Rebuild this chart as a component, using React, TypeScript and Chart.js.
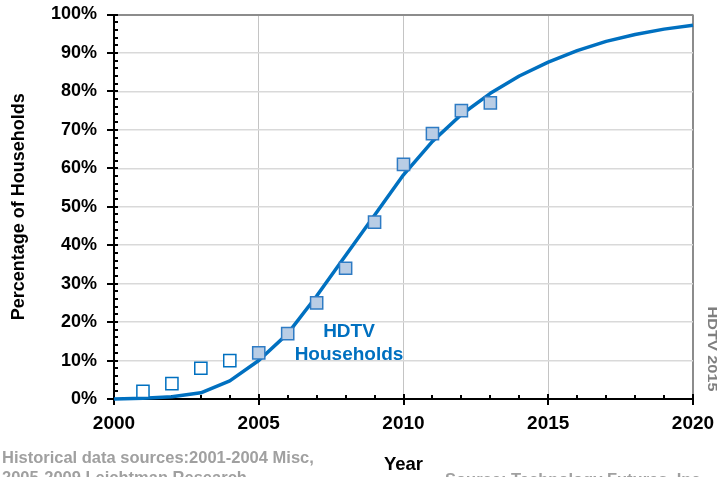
import React, { useEffect, useRef } from "react";
import { Chart, registerables } from "chart.js";

Chart.register(...registerables);

// ---- Data ----
const curveYears = [2000, 2001, 2002, 2003, 2004, 2005, 2006, 2007, 2008, 2009, 2010, 2011, 2012, 2013, 2014, 2015, 2016, 2017, 2018, 2019, 2020];
const curveValues = [0, 0.2, 0.6, 1.6, 4.7, 10, 17, 26.8, 37.3, 47.8, 58.3, 67, 74, 79.5, 84, 87.6, 90.6, 93, 94.8, 96.2, 97.2];
const historicalYears = [2001, 2002, 2003, 2004];
const historicalValues = [2, 4, 8, 10];
const surveyYears = [2005, 2006, 2007, 2008, 2009, 2010, 2011, 2012, 2013];
const surveyValues = [12, 17, 25, 34, 46, 61, 69, 75, 77];
const xMin = 2000;
const xMax = 2020;
const xStep = 5;
const yMin = 0;
const yMax = 100;
const yStep = 10;
const yMinorStep = 2;
const xMinorStep = 1;

const labelFont = "'Liberation Sans', Arial, Helvetica, sans-serif";
const BLUE = "#0070C0";

const extrasPlugin = {
  id: "extras",
  beforeDatasetsDraw(chart: any) {
    const { ctx, chartArea, scales } = chart;
    const xs = scales.x;
    const ys = scales.y;
    ctx.save();
    ctx.strokeStyle = "#000";
    ctx.lineWidth = 2;
    for (let v = yMin; v <= yMax; v += yMinorStep) {
      const y = Math.round(ys.getPixelForValue(v));
      ctx.beginPath();
      if (v % yStep === 0) {
        ctx.moveTo(chartArea.left - 7, y);
        ctx.lineTo(chartArea.left + 4, y);
      } else {
        ctx.moveTo(chartArea.left, y);
        ctx.lineTo(chartArea.left + 4, y);
      }
      ctx.stroke();
    }
    for (let v = xMin; v <= xMax; v += xMinorStep) {
      const x = Math.round(xs.getPixelForValue(v));
      ctx.beginPath();
      if (v % xStep === 0) {
        ctx.moveTo(x, chartArea.bottom - 5);
        ctx.lineTo(x, chartArea.bottom + 6);
      } else {
        ctx.moveTo(x, chartArea.bottom - 4);
        ctx.lineTo(x, chartArea.bottom);
      }
      ctx.stroke();
    }
    ctx.restore();
  },
  afterDraw(chart: any) {
    const { ctx } = chart;
    ctx.save();
    ctx.fillStyle = BLUE;
    ctx.font = `bold 19px ${labelFont}`;
    ctx.textAlign = "center";
    ctx.textBaseline = "middle";
    ctx.fillText("HDTV", 349, 332);
    ctx.fillText("Households", 349, 355);

    ctx.save();
    ctx.translate(711.5, 349);
    ctx.rotate(Math.PI / 2);
    ctx.scale(1.25, 1);
    ctx.fillStyle = "#7F7F7F";
    ctx.font = `bold 13px ${labelFont}`;
    ctx.textAlign = "center";
    ctx.textBaseline = "middle";
    ctx.fillText("HDTV 2015", 0, 0);
    ctx.restore();

    ctx.fillStyle = "#A0A0A0";
    ctx.font = `bold 16.5px ${labelFont}`;
    ctx.textAlign = "left";
    ctx.textBaseline = "alphabetic";
    ctx.fillText("Historical data sources:2001-2004 Misc,", 2, 463);
    ctx.fillText("2005-2009 Leichtman Research", 2, 483);
    ctx.fillText("Source: Technology Futures, Inc.", 445, 485);
    ctx.restore();
  },
};

export default function App() {
  const canvasRef = useRef<HTMLCanvasElement | null>(null);

  useEffect(() => {
    const canvas = canvasRef.current;
    if (!canvas) return;
    const chart = new Chart(canvas, {
      type: "scatter",
      data: {
        datasets: [
          {
            label: "HDTV Households",
            data: curveYears.map((x, i) => ({ x, y: curveValues[i] })),
            showLine: true,
            borderColor: BLUE,
            borderWidth: 3.5,
            pointRadius: 0,
            tension: 0,
            borderJoinStyle: "round",
            clip: false,
            order: 2,
          } as any,
          {
            label: "Historical (misc)",
            data: historicalYears.map((x, i) => ({ x, y: historicalValues[i] })),
            showLine: false,
            pointStyle: "rect",
            pointRadius: 8.6,
            pointBorderWidth: 1.5,
            borderColor: BLUE,
            backgroundColor: "#FFFFFF",
            order: 1,
          } as any,
          {
            label: "Leichtman Research",
            data: surveyYears.map((x, i) => ({ x, y: surveyValues[i] })),
            showLine: false,
            pointStyle: "rect",
            pointRadius: 8.6,
            pointBorderWidth: 1.5,
            borderColor: "#2E7BC4",
            backgroundColor: "#B9CDE5",
            order: 1,
          } as any,
        ],
      },
      options: {
        responsive: false,
        animation: false,
        devicePixelRatio: 1,
        layout: { padding: { top: 14.5, right: 24, left: 0, bottom: 0 } },
        plugins: {
          legend: { display: false },
          tooltip: { enabled: false },
        },
        scales: {
          x: {
            type: "linear",
            min: xMin,
            max: xMax,
            afterFit: (s: any) => {
              s.height = 78;
              s.paddingLeft = 0;
              s.paddingRight = 0;
            },
            ticks: {
              stepSize: xStep,
              color: "#000",
              padding: 13,
              font: { family: labelFont, size: 19, weight: "bold" },
              callback: (v: any) => String(v),
              maxRotation: 0,
            },
            grid: {
              drawTicks: false,
              color: (c: any) => {
                const v = c.tick ? c.tick.value : null;
                if (v === xMin) return "rgba(0,0,0,0)";
                if (v === xMax) return "#8C8C8C";
                return "#C4C4C4";
              },
              lineWidth: (c: any) => (c.tick && c.tick.value === xMax ? 2 : 1),
            },
            border: { color: "#000", width: 2 },
            title: {
              display: true,
              text: "Year",
              color: "#000",
              font: { family: labelFont, size: 18.5, weight: "bold" },
              padding: { top: 0, bottom: 1 },
            },
          },
          y: {
            type: "linear",
            min: yMin,
            max: yMax,
            afterFit: (s: any) => {
              s.width = 114;
              s.paddingTop = 0;
              s.paddingBottom = 0;
            },
            ticks: {
              stepSize: yStep,
              color: "#000",
              padding: 17,
              font: { family: labelFont, size: 18, weight: "bold" },
              callback: (v: any) => `${v}%`,
            },
            grid: {
              drawTicks: false,
              color: (c: any) => {
                const v = c.tick ? c.tick.value : null;
                if (v === yMin) return "rgba(0,0,0,0)";
                if (v === yMax) return "#8C8C8C";
                return "#D9D9D9";
              },
              lineWidth: (c: any) => (c.tick && c.tick.value === yMax ? 2 : 1.5),
            },
            border: { color: "#000", width: 2 },
            title: {
              display: true,
              text: "Percentage of Households",
              color: "#000",
              font: { family: labelFont, size: 18, weight: "bold" },
              padding: { top: 8, bottom: 0 },
            },
          },
        },
      },
      plugins: [extrasPlugin],
    });
    return () => chart.destroy();
  }, []);

  return (
    <div style={{ position: "absolute", left: 0, top: 0, width: 717, height: 477, background: "#fff" }}>
      <canvas ref={canvasRef} width={717} height={477} />
    </div>
  );
}
